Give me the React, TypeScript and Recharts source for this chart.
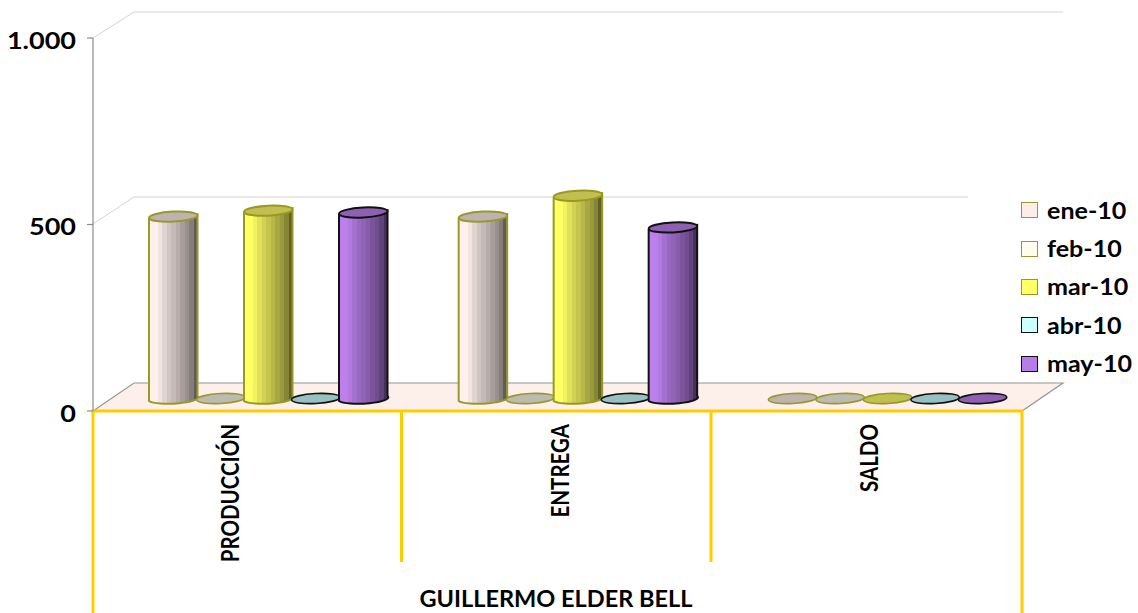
import React from "react";
import { ComposedChart, Bar, XAxis, YAxis, Legend } from "recharts";

// values
const categories = ["PRODUCCIÓN", "ENTREGA", "SALDO"];
const groupLabel = "GUILLERMO ELDER BELL";
const months = ["ene-10", "feb-10", "mar-10", "abr-10", "may-10"];
const ene10 = [489, 489, 0];
const feb10 = [0, 0, 0];
const mar10 = [505, 545, 0];
const abr10 = [0, 0, 0];
const may10 = [500, 460, 0];
const yTicks = [0, 500, 1000];

const seriesValues = [ene10, feb10, mar10, abr10, may10];
const data = categories.map((name, i) => {
  const row: Record<string, string | number> = { name };
  months.forEach((m, s) => {
    row[m] = seriesValues[s][i];
  });
  return row;
});

// chart frame
const WIDTH = 1138;
const HEIGHT = 613;
const LEFT = 93;
const RIGHT = 1022;
const TOP = 38;
const BOTTOM = 411;
const DEPTH_X = 41;
const DEPTH_Y = 28;
const GOLD = "#FFCC00";
const FONT = "Lato, sans-serif";

const legendFill = ["#FDEDE9", "#FFFBEF", "#FFFF66", "#CCFFFF", "#B57EE6"];
const bodyFill = ["#FFF0EC", "#FFF8EC", "#FFFF66", "#CCFFFF", "#BB80EC"];
const topFill = ["#BFB3B1", "#BCBAB1", "#C2BF52", "#97C0C0", "#8E60B2"];
const outline = ["#99992B", "#99992B", "#99991F", "#111111", "#111111"];
const shades = [1, 1, 0.95, 0.88, 0.82, 0.77, 0.72, 0.66, 0.6, 0.52, 0.38];

const shade = (hex: string, k: number) => {
  const n = parseInt(hex.slice(1), 16);
  const c = [(n >> 16) & 255, (n >> 8) & 255, n & 255].map((v) => Math.round(v * k));
  return `rgb(${c[0]},${c[1]},${c[2]})`;
};

// cylinder drawn over the rectangle recharts computes for each bar
const cylinder = (s: number) => (props: any) => {
  const { x, y, width, height } = props;
  const cx = x + width / 2 + 20.5;
  const rx = width / 2 + 0.5;
  const tilt = 2.5;
  const base = y + height - 12.5;
  const top = y - 12;
  const ry = 5;
  const stroke = outline[s];
  if (height < 1) {
    return (
      <ellipse cx={cx} cy={base} rx={rx} ry={ry} fill={topFill[s]} stroke={stroke} strokeWidth={1.6}
        transform={`rotate(-3 ${cx} ${base})`} />
    );
  }
  return (
    <g>
      <path
        d={`M${cx - rx} ${top + tilt} L${cx - rx} ${base + tilt} A${rx} ${ry} -3 0 0 ${cx + rx} ${base - tilt} L${cx + rx} ${top - tilt} Z`}
        fill={`url(#cyl${s})`}
        stroke={stroke}
        strokeWidth={2}
      />
      <ellipse cx={cx} cy={top} rx={rx} ry={ry} fill={topFill[s]} stroke={stroke} strokeWidth={2}
        transform={`rotate(-3 ${cx} ${top})`} />
    </g>
  );
};

const Frame = () => (
  <g>
    <polygon
      points={`${LEFT},${BOTTOM} ${LEFT + DEPTH_X},${BOTTOM - DEPTH_Y} ${RIGHT + DEPTH_X},${BOTTOM - DEPTH_Y} ${RIGHT},${BOTTOM}`}
      fill="#FDF0EA"
    />
    <polyline
      points={`${LEFT},${BOTTOM} ${LEFT + DEPTH_X},${BOTTOM - DEPTH_Y} ${RIGHT + DEPTH_X},${BOTTOM - DEPTH_Y} ${RIGHT},${BOTTOM}`}
      fill="none"
      stroke="#969696"
      strokeWidth={1.2}
    />
    <polyline points={`${LEFT},${TOP} ${LEFT + DEPTH_X},${TOP - 26} ${RIGHT + DEPTH_X},${TOP - 26}`} fill="none" stroke="#D4D4D4" />
    <polyline points={`${LEFT},224 ${LEFT + DEPTH_X},197 968,197`} fill="none" stroke="#D4D4D4" />
    <polyline points={`${LEFT},613 ${LEFT},${BOTTOM} ${RIGHT},${BOTTOM} ${RIGHT},613`} fill="none" stroke={GOLD} strokeWidth={3} />
    <line x1={401.5} y1={BOTTOM} x2={401.5} y2={562} stroke={GOLD} strokeWidth={3} />
    <line x1={711} y1={BOTTOM} x2={711} y2={562} stroke={GOLD} strokeWidth={3} />
    <text
      transform="translate(556 607) scale(1.07 1)"
      textAnchor="middle"
      fontFamily={FONT}
      fontWeight={700}
      fontSize={22}
      fill="#000"
    >
      {groupLabel}
    </text>
  </g>
);

const CategoryTick = (props: any) => {
  const { x, payload } = props;
  const tx = x + (payload.index === 0 ? -9 : 11);
  return (
    <text
      transform={`translate(${tx} 424) rotate(-90) scale(0.82 1)`}
      textAnchor="end"
      fontFamily={FONT}
      fontWeight={700}
      fontSize={25}
      fill="#000"
    >
      {payload.value}
    </text>
  );
};

const ValueTick = (props: any) => {
  const { x, y, payload } = props;
  const label = payload.value === 1000 ? "1.000" : String(payload.value);
  return (
    <text
      transform={`translate(${x} ${y + 10.5}) scale(1.15 1)`}
      textAnchor="end"
      fontFamily={FONT}
      fontWeight={700}
      fontSize={23.5}
      fill="#000"
    >
      {label}
    </text>
  );
};

const LegendBox = (props: any) => (
  <div style={{ width: 130 }}>
    {(props.payload || []).map((p: any, i: number) => (
      <div key={p.value} style={{ display: "flex", alignItems: "center", height: 38.4, fontFamily: FONT, fontWeight: 700, fontSize: 22, color: "#000" }}>
        <span style={{ width: 15, height: 14, marginRight: 9, background: legendFill[i], border: `1.5px solid ${outline[i]}`, flex: "none" }} />
        <span style={{ display: "inline-block", transform: "scaleX(1.14)", transformOrigin: "left center" }}>{p.value}</span>
      </div>
    ))}
  </div>
);

export default function App() {
  return (
    <div style={{ position: "absolute", left: 0, top: 0 }}>
      <ComposedChart
        width={WIDTH}
        height={HEIGHT}
        data={data}
        margin={{ top: TOP, right: WIDTH - RIGHT, bottom: 0, left: 0 }}
        barCategoryGap={36}
        barGap={0}
      >
        <defs>
          {bodyFill.map((fill, s) => (
            <linearGradient key={s} id={`cyl${s}`} x1="0" y1="0" x2="1" y2="0">
              {shades.flatMap((k, i) => [
                <stop key={`${i}a`} offset={i / shades.length} stopColor={shade(fill, k)} />,
                <stop key={`${i}b`} offset={(i + 1) / shades.length} stopColor={shade(fill, k)} />,
              ])}
            </linearGradient>
          ))}
        </defs>
        <Frame />
        <XAxis dataKey="name" height={HEIGHT - BOTTOM} axisLine={false} tickLine={false} tick={<CategoryTick />} interval={0} />
        <YAxis
          width={LEFT}
          domain={[0, 1000]}
          ticks={yTicks}
          axisLine={{ stroke: "#8C8C8C", strokeWidth: 1.2 }}
          tickLine={{ stroke: "#8C8C8C", strokeWidth: 1.2 }}
          tickSize={6}
          tickMargin={11}
          tick={<ValueTick />}
        />
        <Legend
          layout="vertical"
          align="right"
          verticalAlign="middle"
          itemSorter={null}
          content={<LegendBox />}
          wrapperStyle={{ left: 1021, top: 191, width: 0, height: 0 }}
        />
        {months.map((m, s) => (
          <Bar key={m} dataKey={m} name={m} fill={legendFill[s]} barSize={47.5} shape={cylinder(s)} isAnimationActive={false} />
        ))}
      </ComposedChart>
    </div>
  );
}
